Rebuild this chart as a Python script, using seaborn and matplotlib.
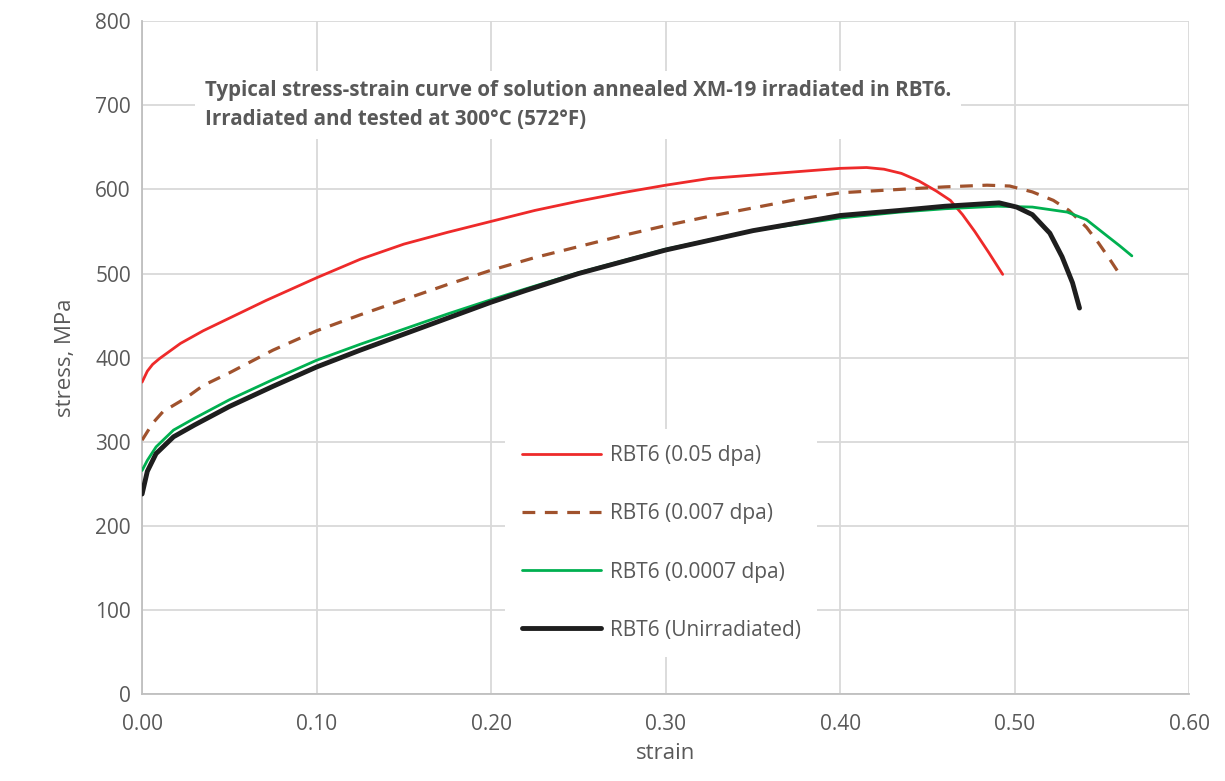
import pandas as pd
import seaborn as sns
import matplotlib.pyplot as plt

# values
red_strain = [0, 0.003, 0.006, 0.01, 0.022, 0.035, 0.05, 0.071, 0.10, 0.125, 0.15, 0.175, 0.20, 0.225,
              0.25, 0.275, 0.30, 0.325, 0.35, 0.375, 0.40, 0.415, 0.425, 0.435, 0.445, 0.455, 0.463,
              0.47, 0.477, 0.485, 0.493]
red_stress = [371, 384, 392, 399, 417, 432, 447, 468, 495, 517, 535, 549, 562, 575,
              586, 596, 605, 613, 617, 621, 625, 626, 624, 619, 610, 598, 587,
              570, 550, 525, 499]

brown_strain = [0, 0.006, 0.012, 0.025, 0.035, 0.05, 0.075, 0.10, 0.125, 0.15, 0.175, 0.20, 0.225, 0.25,
                0.275, 0.30, 0.325, 0.35, 0.375, 0.40, 0.434, 0.46, 0.484, 0.497, 0.51, 0.522, 0.531,
                0.541, 0.548, 0.554, 0.561]
brown_stress = [302, 322, 336, 352, 367, 382, 409, 432, 451, 469, 487, 504, 519, 532,
                545, 557, 568, 578, 588, 596, 600, 603, 605, 604, 597, 587, 575,
                555, 536, 518, 496]

green_strain = [0, 0.003, 0.008, 0.018, 0.03, 0.05, 0.075, 0.10, 0.125, 0.15, 0.175, 0.20, 0.22,
                0.25, 0.30, 0.35, 0.40, 0.434, 0.46, 0.49, 0.51, 0.53, 0.541, 0.552, 0.56, 0.567]
green_stress = [266, 278, 294, 314, 328, 350, 374, 397, 416, 434, 452, 469, 482,
                501, 529, 551, 566, 573, 577, 580, 579, 573, 564, 546, 533, 521]

black_strain = [0, 0.003, 0.008, 0.018, 0.03, 0.05, 0.075, 0.10, 0.125, 0.15, 0.175, 0.20, 0.22,
                0.25, 0.30, 0.35, 0.40, 0.434, 0.46, 0.491, 0.501, 0.51, 0.52, 0.527, 0.533, 0.537]
black_stress = [238, 265, 286, 306, 320, 342, 366, 389, 409, 428, 447, 466, 480,
                500, 528, 551, 569, 575, 580, 584, 579, 570, 548, 520, 489, 459]

labels = ['RBT6 (0.05 dpa)', 'RBT6 (0.007 dpa)', 'RBT6 (0.0007 dpa)', 'RBT6 (Unirradiated)']
x_ticks = [0, 0.1, 0.2, 0.3, 0.4, 0.5, 0.6]
y_ticks = [0, 100, 200, 300, 400, 500, 600, 700, 800]

sns.set_style('white')
plt.rcParams['font.family'] = ['Open Sans', 'DejaVu Sans']
gray = '#595959'

fig = plt.figure(figsize=(12.25, 7.81), dpi=100)
ax = fig.add_axes([0.116, 0.111, 0.855, 0.862])

series = [
    (red_strain, red_stress, '#EE2A2A', 2.0, None),
    (brown_strain, brown_stress, '#A0522D', 2.3, (4, 3)),
    (green_strain, green_stress, '#00B050', 2.0, None),
    (black_strain, black_stress, '#1E1E1E', 3.5, None),
]
for (xs, ys, col, lw, dash), lab in zip(series, labels):
    df = pd.DataFrame({'strain': xs, 'stress': ys})
    sns.lineplot(data=df, x='strain', y='stress', sort=False, color=col, linewidth=lw,
                 label=lab, ax=ax, zorder=3)
    if dash is not None:
        ax.lines[-1].set_dashes(dash)

ax.set_xlim(0, 0.6)
ax.set_ylim(0, 800)
ax.set_xticks(x_ticks)
ax.set_xticklabels([f'{t:.2f}' for t in x_ticks])
ax.set_yticks(y_ticks)
ax.grid(True, color='#D9D9D9', linewidth=1.3)
for s in ['top', 'right']:
    ax.spines[s].set_visible(False)
for s in ['left', 'bottom']:
    ax.spines[s].set_color('#BFBFBF')
    ax.spines[s].set_linewidth(1.3)
ax.tick_params(axis='both', labelsize=15, colors=gray, length=0, pad=8)
ax.tick_params(axis='x', pad=14)
ax.set_xlabel('strain', fontsize=16, color=gray, labelpad=6)
ax.set_ylabel('stress, MPa', fontsize=16, color=gray, labelpad=14)

ax.text(0.06, 0.912,
        'Typical stress-strain curve of solution annealed XM-19 irradiated in RBT6.\n'
        'Irradiated and tested at 300°C (572°F)',
        transform=ax.transAxes, fontsize=14.8, fontweight='bold', color=gray,
        va='top', ha='left', linespacing=1.45,
        bbox=dict(facecolor='white', edgecolor='none', pad=7), zorder=4)

leg = ax.legend(loc='upper left', bbox_to_anchor=(0.337, 0.41), frameon=True, fontsize=15,
                handlelength=3.8, handletextpad=0.4, labelspacing=1.78, borderpad=0.8)
leg.get_frame().set_facecolor('white')
leg.get_frame().set_edgecolor('none')
leg.get_frame().set_alpha(1)
for t in leg.get_texts():
    t.set_color(gray)

plt.savefig('out.png', dpi=100)
